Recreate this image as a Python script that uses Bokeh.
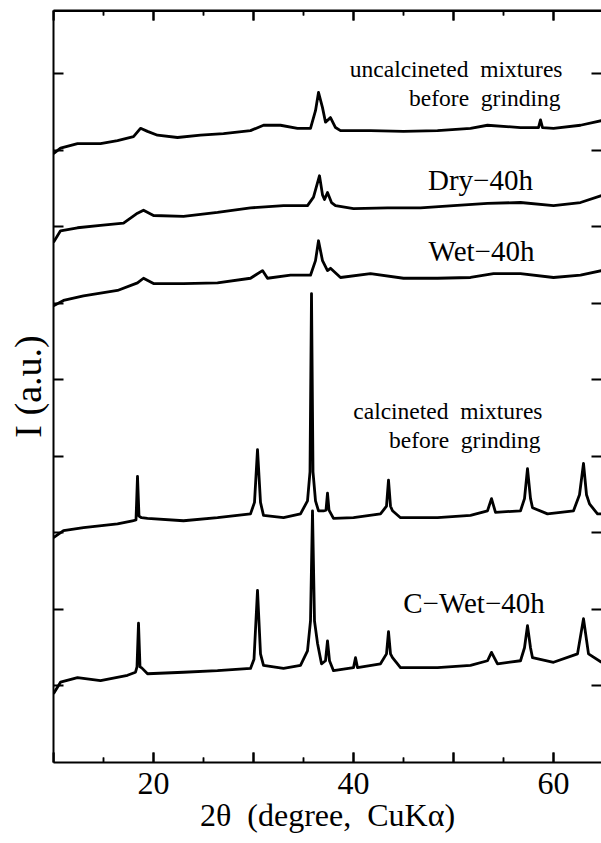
from bokeh.plotting import figure
from bokeh.models import LinearAxis, FixedTicker, Range1d, Label, Span
from bokeh.embed import file_html
from bokeh.resources import INLINE

# ---- data (2theta in degrees, intensity in arbitrary stacked units) ----
uncalc_x = [10.0, 10.7, 12.4, 14.7, 16.4, 18.0, 18.7, 19.4, 20.4, 22.4, 24.7, 27.0, 29.7, 31.0, 32.7,
            34.4, 35.7, 36.2, 36.5, 36.9, 37.2, 37.7, 38.2, 38.7, 41.7, 45.0, 48.4, 51.7, 53.4, 56.7,
            58.5, 58.7, 58.9, 60.0, 62.7, 64.8]
uncalc_y = [7.96, 8.03, 8.09, 8.09, 8.13, 8.18, 8.29, 8.25, 8.20, 8.17, 8.20, 8.22, 8.26, 8.33, 8.33,
            8.29, 8.29, 8.52, 8.76, 8.56, 8.37, 8.43, 8.30, 8.26, 8.26, 8.25, 8.26, 8.29, 8.33, 8.30,
            8.30, 8.40, 8.30, 8.29, 8.33, 8.39]

dry_x = [10.0, 10.7, 12.4, 14.7, 17.0, 18.4, 19.0, 20.0, 23.0, 26.4, 29.7, 33.0, 35.4, 36.0, 36.6,
         36.9, 37.1, 37.4, 37.8, 38.2, 40.0, 43.4, 46.7, 50.0, 53.4, 56.7, 60.0, 62.7, 64.8]
dry_y = [6.80, 6.95, 6.99, 7.02, 7.05, 7.18, 7.22, 7.15, 7.14, 7.19, 7.25, 7.28, 7.28, 7.39, 7.67,
         7.42, 7.36, 7.45, 7.32, 7.28, 7.24, 7.25, 7.25, 7.28, 7.31, 7.32, 7.28, 7.32, 7.41]

wet_x = [10.0, 11.0, 13.0, 16.4, 18.4, 19.0, 20.0, 23.0, 26.4, 29.7, 30.9, 31.4, 33.7, 35.7, 36.2,
         36.5, 36.9, 37.4, 37.7, 38.7, 41.7, 45.0, 48.4, 51.7, 54.0, 56.7, 60.0, 62.7, 64.8]
wet_y = [5.97, 6.04, 6.10, 6.17, 6.27, 6.33, 6.26, 6.26, 6.27, 6.33, 6.43, 6.33, 6.37, 6.37, 6.56,
         6.82, 6.56, 6.43, 6.46, 6.34, 6.39, 6.33, 6.33, 6.34, 6.39, 6.39, 6.34, 6.37, 6.43]

calc_x = [10.0, 11.0, 13.0, 16.4, 17.9, 18.25, 18.4, 18.55, 18.8, 19.4, 23.0, 26.4, 29.7, 30.1, 30.4,
          30.7, 31.0, 33.0, 34.7, 35.4, 35.65, 35.8, 35.95, 36.2, 36.5, 37.0, 37.25, 37.4, 37.55, 38.0,
          40.0, 42.7, 43.3, 43.5, 43.7, 43.9, 44.7, 48.4, 51.7, 53.4, 53.8, 54.2, 56.7, 57.1, 57.4,
          57.7, 57.9, 59.4, 62.0, 62.6, 63.0, 63.3, 63.6, 64.4, 64.8]
calc_y = [2.94, 3.03, 3.07, 3.12, 3.16, 3.17, 3.74, 3.22, 3.20, 3.19, 3.16, 3.20, 3.25, 3.40, 4.09,
          3.40, 3.23, 3.20, 3.25, 3.42, 3.80, 6.13, 3.80, 3.42, 3.29, 3.29, 3.30, 3.52, 3.30, 3.19,
          3.20, 3.25, 3.35, 3.69, 3.35, 3.29, 3.20, 3.20, 3.23, 3.29, 3.45, 3.27, 3.29, 3.45, 3.84,
          3.45, 3.33, 3.25, 3.29, 3.50, 3.91, 3.50, 3.38, 3.25, 3.25]

cwet_x = [10.0, 10.7, 12.4, 14.7, 17.4, 18.2, 18.35, 18.5, 18.65, 18.8, 19.4, 23.0, 26.4, 29.7, 30.05,
          30.4, 30.7, 31.0, 33.0, 34.7, 35.4, 35.7, 35.9, 36.1, 36.4, 36.8, 37.2, 37.4, 37.6, 38.0,
          40.0, 40.2, 40.4, 42.7, 43.3, 43.5, 43.7, 43.9, 44.7, 48.4, 51.7, 53.4, 53.8, 54.4, 56.7,
          57.1, 57.4, 57.7, 57.9, 60.0, 62.4, 63.0, 63.5, 64.8]
cwet_y = [0.90, 1.05, 1.11, 1.07, 1.14, 1.18, 1.25, 1.82, 1.25, 1.24, 1.16, 1.18, 1.20, 1.23, 1.35,
          2.25, 1.42, 1.27, 1.23, 1.27, 1.46, 1.85, 3.29, 1.85, 1.56, 1.29, 1.33, 1.59, 1.33, 1.20,
          1.24, 1.37, 1.24, 1.29, 1.42, 1.71, 1.42, 1.37, 1.24, 1.24, 1.27, 1.33, 1.44, 1.29, 1.33,
          1.50, 1.79, 1.50, 1.37, 1.31, 1.42, 1.88, 1.42, 1.31]

x_major = [10, 20, 30, 40, 50, 60]
x_minor = [15, 25, 35, 45, 55]
x_labels = {10: "", 20: "20", 30: "", 40: "40", 50: "", 60: "60"}
x_blank = {t: "" for t in x_major}
y_ticks = [1, 2, 3, 4, 5, 6, 7, 8, 9]
y_blank = {t: "" for t in y_ticks}

FONT = "Liberation Serif"
SP = "\u00a0"

X0, X1 = 10, 64.8
Y0, Y1 = 0, 9.83
PX_PER_Y = 752 / (Y1 - Y0)
MAJOR_LEN = 10 / PX_PER_Y
MINOR_LEN = 5 / PX_PER_Y

p = figure(width=601, height=843, output_backend="svg", toolbar_location=None,
           x_range=Range1d(X0, X1), y_range=Range1d(Y0, Y1),
           min_border_left=53, min_border_right=0, min_border_top=10, min_border_bottom=81)
p.outline_line_alpha = 0
p.grid.visible = False

def style_x(ax, labels=True):
    ax.ticker = FixedTicker(ticks=x_major, minor_ticks=x_minor)
    ax.major_tick_in = 10
    ax.major_tick_out = 0
    ax.minor_tick_in = 5
    ax.minor_tick_out = 0
    ax.axis_line_width = 2
    ax.major_tick_line_width = 2
    ax.minor_tick_line_width = 1.5
    ax.axis_line_color = "black"
    ax.major_tick_line_color = "black"
    ax.minor_tick_line_color = "black"
    if labels:
        ax.major_label_overrides = x_labels
        ax.major_label_text_font = FONT
        ax.major_label_text_font_size = "32px"
        ax.major_label_text_color = "black"
        ax.major_label_standoff = 10
    else:
        ax.major_label_overrides = x_blank
        ax.major_label_text_font_size = "1px"
        ax.major_label_standoff = 0

def style_y(ax):
    ax.ticker = FixedTicker(ticks=y_ticks, minor_ticks=[])
    ax.major_tick_in = 10
    ax.major_tick_out = 0
    ax.minor_tick_in = 0
    ax.minor_tick_out = 0
    ax.axis_line_width = 2
    ax.major_tick_line_width = 2
    ax.axis_line_color = "black"
    ax.major_tick_line_color = "black"
    ax.major_label_overrides = y_blank
    ax.major_label_text_font_size = "1px"
    ax.major_label_standoff = 0

xb = p.xaxis[0]
style_x(xb)
xb.axis_label = "2θ" + SP + " (degree," + SP + " CuKα)"
xb.axis_label_text_font = FONT
xb.axis_label_text_font_size = "32px"
xb.axis_label_text_font_style = "normal"
xb.axis_label_text_color = "black"
xb.axis_label_standoff = 0

xt = LinearAxis()
style_x(xt, labels=False)
p.add_layout(xt, "above")

yl = p.yaxis[0]
style_y(yl)
yl.axis_label = "I (a.u.)"
yl.axis_label_text_font = FONT
yl.axis_label_text_font_size = "38px"
yl.axis_label_text_font_style = "normal"
yl.axis_label_text_color = "black"
yl.axis_label_standoff = 5

yr = LinearAxis()
style_y(yr)
yr.axis_line_color = None
p.add_layout(yr, "right")

# top frame line and inward ticks on the top and bottom edges
p.add_layout(Span(location=Y1, dimension="width", line_color="black", line_width=3))
nM, nm = len(x_major), len(x_minor)
p.segment(x0=x_major, y0=[Y0] * nM, x1=x_major, y1=[Y0 + MAJOR_LEN] * nM, line_color="black", line_width=2)
p.segment(x0=x_minor, y0=[Y0] * nm, x1=x_minor, y1=[Y0 + MINOR_LEN] * nm, line_color="black", line_width=1.5)
p.segment(x0=x_major, y0=[Y1] * nM, x1=x_major, y1=[Y1 - MAJOR_LEN] * nM, line_color="black", line_width=2)
p.segment(x0=x_minor, y0=[Y1] * nm, x1=x_minor, y1=[Y1 - MINOR_LEN] * nm, line_color="black", line_width=1.5)

for xs, ys in [(uncalc_x, uncalc_y), (dry_x, dry_y), (wet_x, wet_y), (calc_x, calc_y), (cwet_x, cwet_y)]:
    p.line(xs, ys, line_color="black", line_width=2.8, line_join="round")

labels = [
    ("uncalcineted" + SP + " mixtures", 60.9, 9.07, "right", "23.5px"),
    ("before" + SP + " grinding", 60.7, 8.68, "right", "23.5px"),
    ("Dry\u221240h", 52.7, 7.61, "center", "29px"),
    ("Wet\u221240h", 52.8, 6.69, "center", "29px"),
    ("calcineted" + SP + " mixtures", 58.9, 4.60, "right", "23.5px"),
    ("before" + SP + " grinding", 58.7, 4.21, "right", "23.5px"),
    ("C\u2212Wet\u221240h", 52.05, 2.09, "center", "29px"),
]
for txt, lx, ly, al, fs in labels:
    p.add_layout(Label(x=lx, y=ly, text=txt, text_align=al, text_baseline="middle",
                       text_font=FONT, text_font_size=fs, text_color="black"))

open("out.html", "w").write(file_html(p, INLINE))
